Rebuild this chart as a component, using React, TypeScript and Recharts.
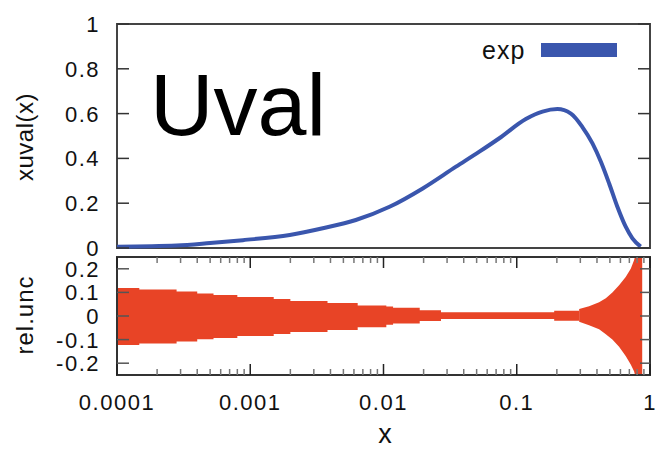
import { Area, ComposedChart, Line, ReferenceArea, XAxis, YAxis } from 'recharts';

// xuval(x)
const CURVE_X = [
  0.0001, 0.00028, 0.0005, 0.00088, 0.00198, 0.0035, 0.0062, 0.0111, 0.0197, 0.035, 0.0524, 0.074,
  0.117, 0.156, 0.202, 0.255, 0.311, 0.37, 0.428, 0.493, 0.569, 0.657, 0.738, 0.851,
];
const CURVE_Y = [
  0.006, 0.011, 0.022, 0.035, 0.058, 0.088, 0.125, 0.184, 0.266, 0.363, 0.43, 0.49, 0.576, 0.609,
  0.62, 0.6, 0.54, 0.467, 0.385, 0.289, 0.184, 0.095, 0.043, 0.006,
];

// relative uncertainty, stepped part (lower panel)
const STEP_X = [
  0.0001, 0.000147, 0.00028, 0.0004, 0.00053, 0.0008, 0.0015, 0.002, 0.0038, 0.0064, 0.0105, 0.0118,
  0.0187, 0.027, 0.191, 0.294,
];
const STEP_LO = [
  -0.123, -0.117, -0.108, -0.099, -0.093, -0.085, -0.076, -0.068, -0.059, -0.048, -0.037, -0.032,
  -0.021, -0.013, -0.02, -0.024,
];
const STEP_HI = [
  0.119, 0.112, 0.104, 0.095, 0.089, 0.081, 0.072, 0.064, 0.055, 0.044, 0.04, 0.035, 0.024, 0.016,
  0.022, 0.03,
];

// relative uncertainty, flaring part near x -> 1
const FLARE_X = [0.294, 0.349, 0.415, 0.466, 0.522, 0.586, 0.657, 0.717, 0.759, 0.789, 0.874];
const FLARE_LO = [-0.024, -0.039, -0.056, -0.077, -0.1, -0.13, -0.17, -0.205, -0.234, -0.27, -0.27];
const FLARE_HI = [0.03, 0.041, 0.058, 0.075, 0.1, 0.13, 0.165, 0.2, 0.236, 0.27, 0.27];

const X_MAJOR = [0.0001, 0.001, 0.01, 0.1, 1];
const X_LABELS = ['0.0001', '0.001', '0.01', '0.1', '1'];
const TOP_TICKS = [0, 0.2, 0.4, 0.6, 0.8, 1];
const BOT_TICKS = [-0.2, -0.1, 0, 0.1, 0.2];

const X_MINOR = X_MAJOR.slice(0, -1).flatMap((d) => [2, 3, 4, 5, 6, 7, 8, 9].map((k) => d * k));
const X_TICKS = [...X_MAJOR, ...X_MINOR].sort((a, b) => a - b);

const curveData = CURVE_X.map((x, i) => ({ x, y: CURVE_Y[i] }));
const stepData = STEP_X.map((x, i) => ({ x, band: [STEP_LO[i], STEP_HI[i]] }));
const flareData = FLARE_X.map((x, i) => ({ x, band: [FLARE_LO[i], FLARE_HI[i]] }));

const W = 657;
const RIGHT = 650;
const Y_MARGIN = 17;
const X_MARGIN = 4;
const BOT_TOP = 8;
const BLUE = '#3a56ad';
const RED = '#e84426';
const FONT = '"Liberation Sans", Arial, sans-serif';

const labelStyle = { fontFamily: FONT, fontSize: 22, fill: '#111', letterSpacing: 1.5 };

function TopYTick(props: any) {
  const { x, y, payload } = props;
  const ax = x + Y_MARGIN;
  return (
    <g>
      <line x1={ax} x2={ax + 12} y1={y} y2={y} stroke="#333" strokeWidth={1.5} />
      <line x1={RIGHT - 12} x2={RIGHT} y1={y} y2={y} stroke="#333" strokeWidth={1.5} />
      <text x={x} y={y} dy="0.36em" textAnchor="end" style={labelStyle}>
        {String(payload.value)}
      </text>
    </g>
  );
}

function BotYTick(props: any) {
  const { x, y, payload } = props;
  const ax = x + Y_MARGIN;
  return (
    <g>
      <line x1={ax} x2={ax + 12} y1={y} y2={y} stroke="#555" strokeWidth={1.5} />
      <line x1={RIGHT - 10} x2={RIGHT} y1={y} y2={y} stroke="#555" strokeWidth={1.5} />
      <text x={x} y={y} dy="0.36em" textAnchor="end" style={labelStyle}>
        {String(payload.value)}
      </text>
    </g>
  );
}

function XTick(props: any) {
  const { x, y, payload } = props;
  const ax = y - X_MARGIN;
  const i = X_MAJOR.findIndex((v) => Math.abs(v - payload.value) < v * 1e-6);
  const major = i >= 0;
  const len = major ? 11 : 6;
  const col = major ? '#222' : '#777';
  return (
    <g>
      <line x1={x} x2={x} y1={ax} y2={ax - len} stroke={col} strokeWidth={1.5} />
      <line x1={x} x2={x} y1={BOT_TOP} y2={BOT_TOP + len} stroke={col} strokeWidth={1.5} />
      {major && (
        <text x={x} y={ax + 27} dy="0.36em" textAnchor="middle" style={labelStyle}>
          {X_LABELS[i]}
        </text>
      )}
    </g>
  );
}

export default function App() {
  return (
    <div style={{ position: 'absolute', left: 0, top: 0, width: W, height: 449, background: '#fff' }}>
      <div style={{ position: 'absolute', left: 0, top: 0 }}>
        <ComposedChart
          width={W}
          height={262}
          data={curveData}
          margin={{ top: 24, right: W - RIGHT, bottom: 14, left: 57 }}
        >
          <XAxis dataKey="x" type="number" scale="log" domain={[0.0001, 1]} allowDataOverflow hide />
          <YAxis
            type="number"
            domain={[0, 1]}
            ticks={TOP_TICKS}
            interval={0}
            width={60}
            tickSize={0}
            tickMargin={Y_MARGIN}
            axisLine={false}
            tickLine={false}
            tick={(p: any) => <TopYTick {...p} />}
          />
          <ReferenceArea x1={0.0001} x2={1} y1={0} y2={1} fill="none" stroke="#444" strokeWidth={2} />
          <Line
            type="monotone"
            dataKey="y"
            stroke={BLUE}
            strokeWidth={4}
            dot={false}
            isAnimationActive={false}
          />
          <text x={150} y={135} style={{ fontFamily: FONT, fontSize: 88, fill: '#000' }}>
            Uval
          </text>
          <text x={482} y={59} style={{ fontFamily: FONT, fontSize: 25, fill: '#111', letterSpacing: 1 }}>
            exp
          </text>
          <rect x={541} y={43} width={76} height={14} fill={BLUE} />
          <text
            x={33}
            y={137}
            transform="rotate(-90, 33, 137)"
            textAnchor="middle"
            style={{ fontFamily: FONT, fontSize: 24, fill: '#111', letterSpacing: 0.5 }}
          >
            xuval(x)
          </text>
        </ComposedChart>
      </div>
      <div style={{ position: 'absolute', left: 0, top: 249 }}>
        <ComposedChart
          width={W}
          height={200}
          margin={{ top: BOT_TOP, right: W - RIGHT, bottom: 44, left: 57 }}
        >
          <XAxis
            dataKey="x"
            type="number"
            scale="log"
            domain={[0.0001, 1]}
            allowDataOverflow
            ticks={X_TICKS}
            interval={0}
            height={30}
            tickSize={0}
            tickMargin={X_MARGIN}
            axisLine={false}
            tickLine={false}
            tick={(p: any) => <XTick {...p} />}
          />
          <YAxis
            type="number"
            domain={[-0.25, 0.25]}
            allowDataOverflow
            ticks={BOT_TICKS}
            interval={0}
            width={60}
            tickSize={0}
            tickMargin={Y_MARGIN}
            axisLine={false}
            tickLine={false}
            tick={(p: any) => <BotYTick {...p} />}
          />
          <Area
            data={stepData}
            type="stepAfter"
            dataKey="band"
            stroke="none"
            fill={RED}
            fillOpacity={1}
            isAnimationActive={false}
          />
          <Area
            data={flareData}
            type="linear"
            dataKey="band"
            stroke="none"
            fill={RED}
            fillOpacity={1}
            isAnimationActive={false}
          />
          <ReferenceArea
            x1={0.0001}
            x2={1}
            y1={-0.25}
            y2={0.25}
            fill="none"
            stroke="#333"
            strokeWidth={2}
          />
          <text
            x={33}
            y={66}
            transform="rotate(-90, 33, 66)"
            textAnchor="middle"
            style={{ fontFamily: FONT, fontSize: 24, fill: '#111', letterSpacing: 1 }}
          >
            rel.unc
          </text>
          <text x={385} y={194} textAnchor="middle" style={{ fontFamily: FONT, fontSize: 27, fill: '#111' }}>
            x
          </text>
        </ComposedChart>
      </div>
    </div>
  );
}
